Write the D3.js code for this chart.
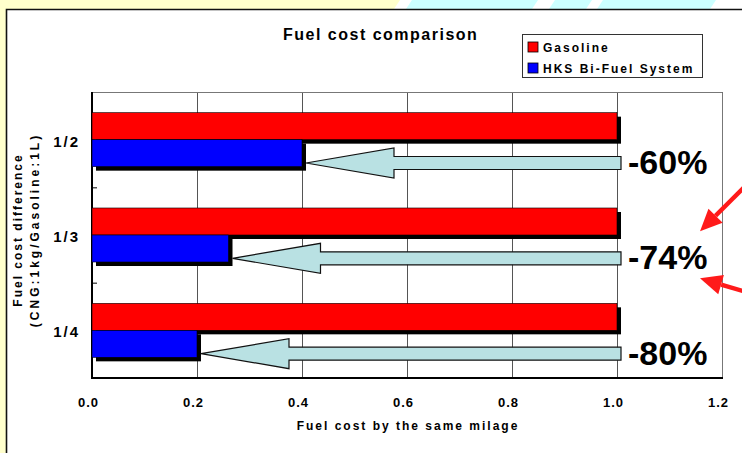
<!DOCTYPE html>
<html>
<head>
<meta charset="utf-8">
<script src="https://cdn.jsdelivr.net/npm/d3@7/dist/d3.min.js"></script>
<style>
body { margin: 0; }
svg { display: block; font-family: "Liberation Sans", Arial, sans-serif; font-weight: bold; }
</style>
</head>
<body>
<div id="chart"></div>
<script>
let categories = ["1/2", "1/3", "1/4"];
let seriesNames = ["Gasoline", "HKS Bi-Fuel System"];
let gasoline = [1.0, 1.0, 1.0];
let biFuel = [0.40, 0.26, 0.20];
let savings = ["-60%", "-74%", "-80%"];
let xTicks = [0, 0.2, 0.4, 0.6, 0.8, 1.0, 1.2];

let width = 742;
let height = 453;
let plotLeft = 92, plotRight = 722, plotTop = 92, plotBottom = 378;

let colors = d3.scaleOrdinal().domain(seriesNames).range(["#ff0000", "#0000ff"]);

let svg = d3.select("#chart")
	.append("svg")
	.attr("width", width)
	.attr("height", height);

/*---------------- page background ----------------*/

svg.append("rect").attr("width", width).attr("height", height).attr("fill", "#ffffcc");
svg.append("polygon").attr("points", "400,0 742,0 742,9 394,9").attr("fill", "#ffffff");
svg.append("polygon").attr("points", "412,0 538,0 532,9 406,9").attr("fill", "#ccffff");
svg.append("polygon").attr("points", "555,0 592,0 586,9 549,9").attr("fill", "#ccffff");
svg.append("polygon").attr("points", "603,0 716,0 710,9 597,9").attr("fill", "#ccffff");

svg.append("rect").attr("x", 6).attr("y", 9).attr("width", width).attr("height", height)
	.attr("fill", "white");
svg.append("path").attr("d", "M6.5," + height + "V9.5H" + width)
	.attr("fill", "none").attr("stroke", "#111").attr("stroke-width", 1.6);

/*---------------- scales ----------------*/

let x = d3.scaleLinear().domain([0, 1.2]).range([plotLeft, plotRight]);
let y0 = d3.scaleBand().domain(categories).range([plotTop, plotBottom]);
let y1 = d3.scaleBand().domain(seriesNames).range([0, y0.bandwidth()])
	.paddingInner(0).paddingOuter(0.765);

/*---------------- grid + x axis ----------------*/

let xAxis = svg.append("g")
	.attr("transform", "translate(0," + plotBottom + ")")
	.call(d3.axisBottom(x).tickValues(xTicks).tickSize(-(plotBottom - plotTop)).tickFormat(d3.format(".1f")));
xAxis.select(".domain").remove();
xAxis.selectAll("line").attr("stroke", "#555");
xAxis.selectAll("text")
	.attr("y", 29).attr("dy", null).attr("dx", -4)
	.style("font-size", "13px").style("letter-spacing", "1px")
	.attr("fill", "#000");

// plot frame: grey top/right, black left/bottom
svg.append("path").attr("d", "M" + plotLeft + "," + (plotTop + 0.5) + "H" + (plotRight + 0.5) + "V" + plotBottom)
	.attr("fill", "none").attr("stroke", "#777").attr("stroke-width", 1);
svg.append("path").attr("d", "M" + plotLeft + "," + plotTop + "V" + plotBottom + "H" + (plotRight + 1))
	.attr("fill", "none").attr("stroke", "#000").attr("stroke-width", 2);

// category separators
svg.selectAll(".catTick").data(categories.slice(1)).enter().append("line")
	.attr("x1", plotLeft).attr("x2", plotLeft + 5)
	.attr("y1", function(d){return y0(d) + 0.5;})
	.attr("y2", function(d){return y0(d) + 0.5;})
	.attr("stroke", "#000");

svg.selectAll(".catLabel").data(categories).enter().append("text")
	.attr("x", 80)
	.attr("y", function(d){return y0(d) + y0.bandwidth() / 2 + 7;})
	.attr("text-anchor", "end")
	.style("font-size", "15px").style("letter-spacing", "2px")
	.text(function(d){return d;});

/*---------------- bars ----------------*/

let rows = [];
categories.forEach(function(c, i){
	rows.push({cat: c, series: seriesNames[0], value: gasoline[i]});
	rows.push({cat: c, series: seriesNames[1], value: biFuel[i]});
});

svg.append("g").selectAll("rect").data(rows).enter().append("rect")
	.attr("x", x(0) + 4)
	.attr("y", function(d){return y0(d.cat) + y1(d.series) + 4;})
	.attr("width", function(d){return x(d.value) - x(0);})
	.attr("height", y1.bandwidth())
	.attr("fill", "#000");

svg.append("g").selectAll("rect").data(rows).enter().append("rect")
	.attr("x", x(0))
	.attr("y", function(d){return y0(d.cat) + y1(d.series);})
	.attr("width", function(d){return x(d.value) - x(0);})
	.attr("height", y1.bandwidth())
	.attr("fill", function(d){return colors(d.series);})
	.attr("stroke", "#000").attr("stroke-width", 0.6);

/*---------------- saving arrows ----------------*/

let headLen = 88, shaftHalf = 6.5, headHalf = 15;

svg.append("g").selectAll("polygon").data(categories).enter().append("polygon")
	.attr("points", function(d, i){
		let cy = y0(d) + 71;
		let xt = x(gasoline[i]) + 4;
		let xp = x(biFuel[i]) + 4;
		let xb = xp + headLen;
		return [[xt, cy - shaftHalf], [xb, cy - shaftHalf], [xb, cy - headHalf], [xp, cy],
			[xb, cy + headHalf], [xb, cy + shaftHalf], [xt, cy + shaftHalf]].join(" ");
	})
	.attr("fill", "#b9e1e3")
	.attr("stroke", "#111")
	.attr("stroke-width", 1.2);

svg.append("g").selectAll("text").data(savings).enter().append("text")
	.attr("x", x(1.0) + 11)
	.attr("y", function(d, i){return y0(categories[i]) + 82;})
	.style("font-size", "34px")
	.attr("fill", "#000")
	.text(function(d){return d;});

// red pointers at the middle value
function redArrow(x1, y1, x2, y2) {
	let dx = x2 - x1, dy = y2 - y1, len = Math.sqrt(dx * dx + dy * dy);
	let ux = dx / len, uy = dy / len;
	let bx = x2 - ux * 22, by = y2 - uy * 22;
	svg.append("line").attr("x1", x1).attr("y1", y1).attr("x2", bx).attr("y2", by)
		.attr("stroke", "#ff1a1a").attr("stroke-width", 4.5);
	svg.append("polygon")
		.attr("points", [[x2, y2], [bx - uy * 10, by + ux * 10], [bx + uy * 10, by - ux * 10]].join(" "))
		.attr("fill", "#ff1a1a");
}
let midY = y0(categories[1]) + 82;
redArrow(width + 2, midY - 82, x(1.2) - 22, midY - 38);
redArrow(width + 2, midY + 22, x(1.2) - 22, midY + 9);

/*---------------- titles + legend ----------------*/

svg.append("text").attr("x", 283).attr("y", 40)
	.style("font-size", "16px").style("letter-spacing", "1.5px")
	.text("Fuel cost comparison");

svg.append("text").attr("x", 408).attr("y", 430).attr("text-anchor", "middle")
	.style("font-size", "12px").style("letter-spacing", "2px")
	.text("Fuel cost by the same milage");

let yTitle = svg.append("g").attr("transform", "translate(0,230) rotate(-90)");
yTitle.append("text").attr("x", 0).attr("y", 22).attr("text-anchor", "middle")
	.style("font-size", "12px").style("letter-spacing", "2px")
	.text("Fuel cost difference");
yTitle.append("text").attr("x", 0).attr("y", 39).attr("text-anchor", "middle")
	.style("font-size", "12px").style("letter-spacing", "3px")
	.text("(CNG:1kg/Gasoline:1L)");

let legendBox = svg.append("g").attr("transform", "translate(522,34)");
legendBox.append("rect").attr("x", 0.5).attr("y", 0.5).attr("width", 180).attr("height", 43)
	.attr("fill", "white").attr("stroke", "#333");

let legend = legendBox.selectAll(".legends").data(seriesNames).enter().append("g")
	.attr("transform", function(d, i){return "translate(6," + (8 + i * 21) + ")";});
legend.append("rect")
	.attr("width", 10).attr("height", 10)
	.attr("fill", function(d){return colors(d);})
	.attr("stroke", "#000").attr("stroke-width", 0.8);
legend.append("text").attr("x", 15).attr("y", 10)
	.style("font-size", "12px").style("letter-spacing", "2px")
	.text(function(d){return d;});
</script>
</body>
</html>
